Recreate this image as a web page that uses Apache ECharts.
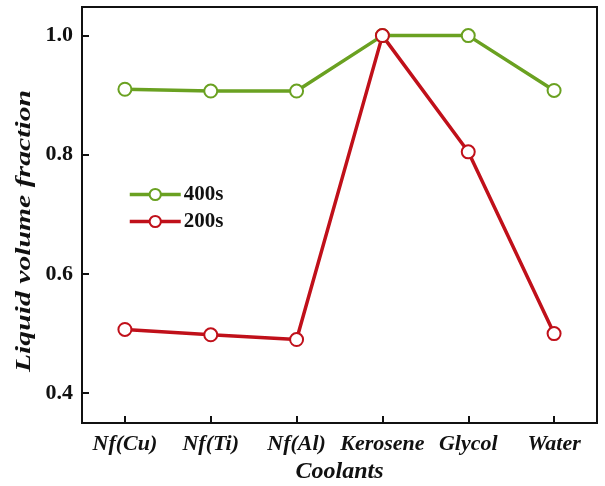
<!DOCTYPE html>
<html>
<head>
<meta charset="utf-8">
<script src="https://cdn.jsdelivr.net/npm/echarts@6/dist/echarts.min.js"></script>
<style>
  html, body { margin: 0; padding: 0; background: #fff; }
  #chart { width: 605px; height: 486px; }
</style>
</head>
<body>
<div id="chart"></div>
<script>
// Coolant types along the x axis
const coolants = ['Nf(Cu)', 'Nf(Ti)', 'Nf(Al)', 'Kerosene', 'Glycol', 'Water'];
// Liquid volume fraction at each time
const frac400s = [0.910, 0.907, 0.907, 1.0, 1.0, 0.908];
const frac200s = [0.507, 0.498, 0.490, 1.0, 0.805, 0.500];
const yTicks = [0.4, 0.6, 0.8, 1.0];

const serif = '"Liberation Serif", "Times New Roman", serif';
const green = '#6aa121';
const red = '#c0101a';

const chart = echarts.init(document.getElementById('chart'), null, { renderer: 'canvas' });

function seriesFor(name, data, color) {
  return {
    name: name,
    type: 'line',
    data: data,
    symbol: 'emptyCircle',
    symbolSize: 13,
    lineStyle: { color: color, width: 3.5 },
    itemStyle: { color: color, borderColor: color, borderWidth: 2.8 },
    emphasis: { disabled: true }
  };
}

chart.setOption({
  animation: false,
  backgroundColor: '#fff',
  grid: {
    left: 82, right: 8, top: 7, bottom: 63,
    outerBoundsMode: 'none',
    containLabel: false,
    show: true, borderColor: '#111', borderWidth: 2, backgroundColor: 'transparent'
  },
  legend: {
    orient: 'vertical',
    left: 128, top: 184, padding: 0,
    itemWidth: 51, itemHeight: 14, itemGap: 6,
    data: [
      { name: '400s', lineStyle: { width: 3.5 } },
      { name: '200s', lineStyle: { width: 3.5 } }
    ],
    textStyle: { fontFamily: serif, fontWeight: 'bold', fontSize: 21, lineHeight: 20, color: '#111', padding: [0, 0, 0, -2] }
  },
  // Y axis title, stretched along its length like the original artwork
  graphic: [{
    type: 'text',
    x: 24, y: 231,
    rotation: Math.PI / 2,
    scaleX: 1.35,
    style: {
      text: 'Liquid volume fraction',
      font: 'italic bold 22px ' + serif,
      fill: '#111',
      align: 'center',
      verticalAlign: 'middle'
    }
  }],
  xAxis: {
    type: 'category',
    data: coolants,
    boundaryGap: true,
    name: 'Coolants',
    nameLocation: 'middle',
    nameGap: 35,
    nameTextStyle: { fontFamily: serif, fontWeight: 'bold', fontStyle: 'italic', fontSize: 24, color: '#111' },
    axisLine: { show: true, lineStyle: { color: '#111', width: 2 } },
    axisTick: { show: true, inside: true, alignWithLabel: true, length: 7, lineStyle: { color: '#111', width: 2 } },
    axisLabel: { margin: 10, fontFamily: serif, fontWeight: 'bold', fontStyle: 'italic', fontSize: 22, color: '#111', interval: 0 },
    splitLine: { show: false }
  },
  yAxis: {
    type: 'value',
    min: 0.35, max: 1.048,
    axisLine: { show: true, lineStyle: { color: '#111', width: 2 } },
    axisTick: { show: true, inside: true, length: 7, customValues: yTicks, lineStyle: { color: '#111', width: 2 } },
    axisLabel: {
      margin: 9, fontFamily: serif, fontWeight: 'bold', fontSize: 22, color: '#111',
      customValues: yTicks,
      formatter: v => v.toFixed(1)
    },
    splitLine: { show: false }
  },
  series: [
    seriesFor('400s', frac400s, green),
    seriesFor('200s', frac200s, red)
  ]
});
</script>
</body>
</html>
